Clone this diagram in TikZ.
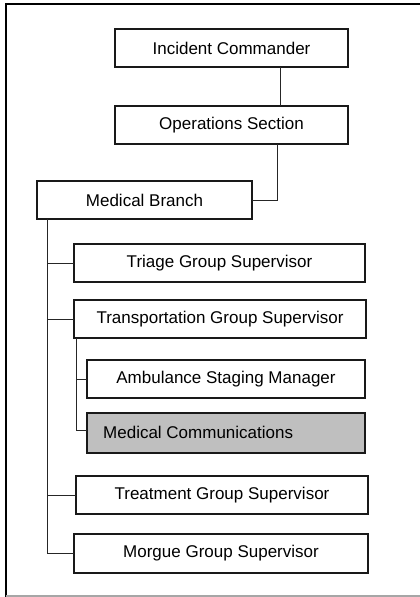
\documentclass[tikz,border=0pt]{standalone}
\usepackage{fontspec}
\setmainfont{Liberation Sans}
\begin{document}
\begin{tikzpicture}[x=1pt,y=-1pt,
  box/.style={draw=black!90, line width=1.3pt, inner sep=0pt, outer sep=0pt,
    font=\fontsize{17}{20}\selectfont, anchor=center},
  link/.style={draw=black!85, line width=1pt}]
\useasboundingbox (0,0) rectangle (420,597);
% frame
\draw[line width=2pt, black] (6,597) -- (6,4) -- (420,4);
\draw[line width=1.5pt, black!35] (6,596) -- (420,596);
% boxes
\node[box, minimum width=233pt, minimum height=38pt] (ic) at (231.5,48) {Incident Commander};
\node[box, minimum width=233pt, minimum height=38pt] (os) at (231.5,125) {Operations Section};
\node[box, minimum width=215pt, minimum height=38pt] (mb) at (144.5,200) {Medical Branch};
\node[box, minimum width=291pt, minimum height=38pt] (tr) at (219.5,263) {Triage Group Supervisor};
\node[box, minimum width=292pt, minimum height=38pt] (tp) at (220,319) {Transportation Group Supervisor};
\node[box, minimum width=278pt, minimum height=38pt] (am) at (226,379) {Ambulance Staging Manager};
\node[box, minimum width=278pt, minimum height=40pt, fill=black!25] (mc) at (226,433) {};
\node[font=\fontsize{17}{20}\selectfont, anchor=west, inner sep=0pt] (mct) at (103,432) {Medical Communications};
\node[box, minimum width=292pt, minimum height=38pt] (tm) at (222,495) {Treatment Group Supervisor};
\node[box, minimum width=294pt, minimum height=39pt] (mg) at (221,553.5) {Morgue Group Supervisor};
% trunk coordinates
\coordinate (c1) at (280,0);
\coordinate (c2) at (277,0);
\coordinate (t1) at (47,0);
\coordinate (t2) at (76,0);
\coordinate (mcin) at (87,430);
% connectors
\draw[link] (ic.south -| c1) -- (os.north -| c1);
\draw[link] (os.south -| c2) |- (mb.east);
\draw[link] (mb.south -| t1) |- (mg.west);
\draw[link] (tr.west -| t1) -- (tr.west);
\draw[link] (tp.west -| t1) -- (tp.west);
\draw[link] (tm.west -| t1) -- (tm.west);
\draw[link] (tp.south -| t2) |- (mcin);
\draw[link] (am.west -| t2) -- (am.west);
\end{tikzpicture}
\end{document}
